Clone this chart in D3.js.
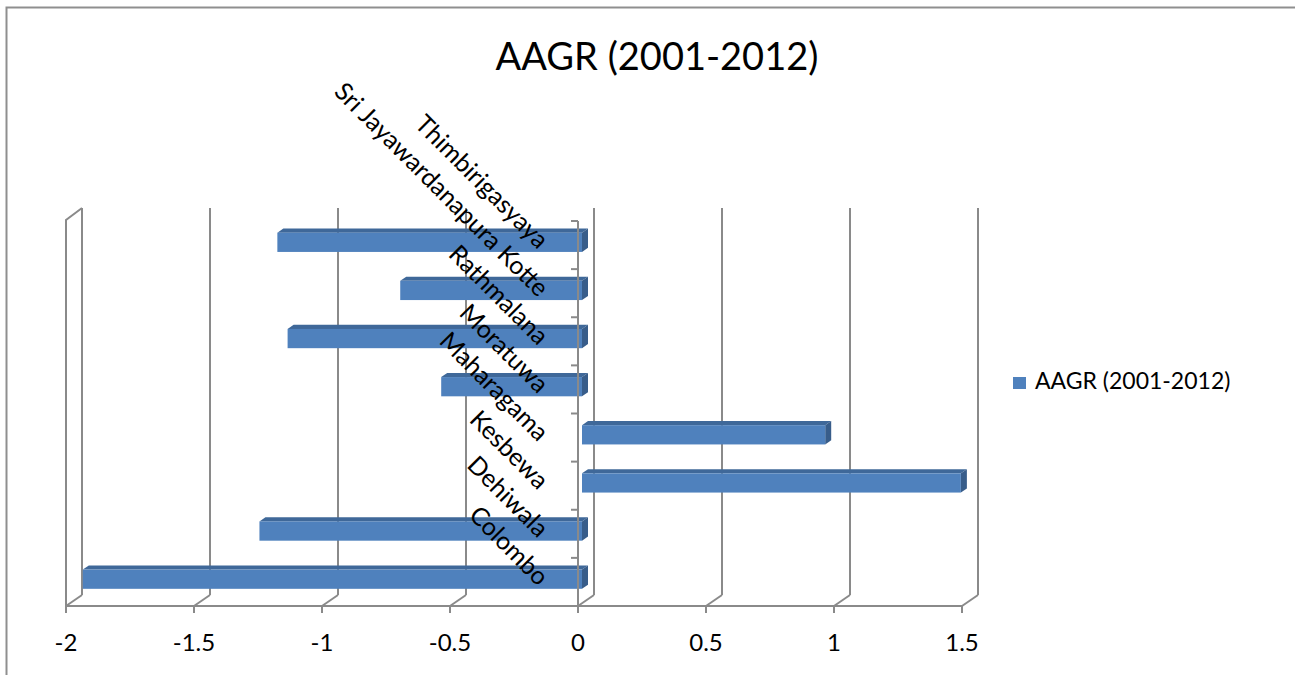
<!DOCTYPE html>
<html>
<head>
<meta charset="utf-8">
<script src="https://cdn.jsdelivr.net/npm/d3@7"></script>
<style>
  html, body { margin: 0; padding: 0; background: #fff; }
  svg { display: block; font-family: Lato, "Open Sans", sans-serif; }
</style>
</head>
<body>
<svg id="chart" width="1295" height="675"></svg>
<script>
// Average annual growth rate by DS division, 2001-2012
const categories = ["Colombo", "Dehiwala", "Kesbewa", "Maharagama", "Moratuwa", "Rathmalana", "Sri Jayawardanapura Kotte", "Thimbirigasyaya"];
const aagr = [-1.95, -1.26, 1.48, 0.95, -0.55, -1.15, -0.71, -1.19];
const xTicks = [-2, -1.5, -1, -0.5, 0, 0.5, 1, 1.5];
const seriesName = "AAGR (2001-2012)";

const svg = d3.select("#chart");
const W = 1295, H = 675;

// front plane of the plot box
const x = d3.scaleLinear().domain([-2, 1.5]).range([66, 962]);
const y = d3.scaleBand().domain(categories).range([606, 221]).paddingInner(0.6).paddingOuter(0.3);
const yTop = 221, yBot = 606;

// oblique depth offset of the back wall relative to the front plane
const DX = 16, DY = -11;
const depth = (f) => [DX * f, DY * f];
const barFront = 0.25, barBack = 0.625;

const gridColor = "#8a8a8a";

svg.append("rect").attr("width", W).attr("height", H).attr("fill", "#fff");

// outer frame (top and left edges)
svg.append("path")
  .attr("d", `M6.5,${H} L6.5,7.5 L${W},7.5`)
  .attr("fill", "none").attr("stroke", "#8f8f8f").attr("stroke-width", 2);

// title
svg.append("text")
  .attr("x", 657).attr("y", 70)
  .attr("text-anchor", "middle")
  .attr("font-size", 38).attr("fill", "#000")
  .text(seriesName);

const walls = svg.append("g").attr("fill", "none").attr("stroke", gridColor).attr("stroke-width", 2);
const [bx, by] = depth(1);

// back wall gridlines
xTicks.forEach(t => {
  walls.append("line")
    .attr("x1", x(t) + bx).attr("x2", x(t) + bx)
    .attr("y1", yTop + by - 2).attr("y2", yBot + by);
});

// left side wall
walls.append("path")
  .attr("d", `M${x(-2)},${yBot} L${x(-2)},${yTop - 1} L${x(-2) + bx},${yTop + by - 2}`);

// floor: front edge and depth connectors at each tick
walls.append("line")
  .attr("x1", x(-2)).attr("x2", x(1.5))
  .attr("y1", yBot).attr("y2", yBot);
xTicks.forEach(t => {
  walls.append("line")
    .attr("x1", x(t)).attr("y1", yBot)
    .attr("x2", x(t) + bx).attr("y2", yBot + by);
  walls.append("line")
    .attr("x1", x(t)).attr("y1", yBot)
    .attr("x2", x(t)).attr("y2", yBot + 7);
});

// bars as oblique boxes
const colFront = "#4f81bd", colTop = "#3f6899", colSide = "#385d8a";
const [fx, fy] = depth(barFront);
const [kx, ky] = depth(barBack);
const bars = svg.append("g");
categories.forEach((c, i) => {
  const v = aagr[i];
  const xl = x(Math.min(0, v)), xr = x(Math.max(0, v));
  const yt = y(c), yb = y(c) + y.bandwidth();
  const g = bars.append("g");
  g.append("path")
    .attr("d", `M${xl + fx},${yt + fy} L${xr + fx},${yt + fy} L${xr + kx},${yt + ky} L${xl + kx},${yt + ky} Z`)
    .attr("fill", colTop);
  g.append("path")
    .attr("d", `M${xr + fx},${yt + fy} L${xr + kx},${yt + ky} L${xr + kx},${yb + ky} L${xr + fx},${yb + fy} Z`)
    .attr("fill", colSide);
  g.append("rect")
    .attr("x", xl + fx).attr("y", yt + fy)
    .attr("width", xr - xl).attr("height", yb - yt)
    .attr("fill", colFront);
});

// category axis at zero
const axis = svg.append("g").attr("stroke", gridColor).attr("stroke-width", 2);
axis.append("line")
  .attr("x1", x(0)).attr("x2", x(0))
  .attr("y1", yTop).attr("y2", yBot);
const step = y.step();
d3.range(categories.length).forEach(i => {
  const yy = yBot - (i + 1) * step;
  axis.append("line")
    .attr("x1", x(0) - 7).attr("x2", x(0))
    .attr("y1", yy).attr("y2", yy);
});

// value tick labels
svg.append("g").selectAll("text")
  .data(xTicks).join("text")
  .attr("x", d => x(d)).attr("y", 651)
  .attr("text-anchor", "middle")
  .attr("font-size", 24).attr("fill", "#000")
  .text(d => d3.format("")(d).replace("−", "-"));

// rotated category labels
svg.append("g").selectAll("text")
  .data(categories).join("text")
  .attr("transform", d => `translate(538, ${y(d) + y.bandwidth() / 2 + 5}) rotate(45)`)
  .attr("text-anchor", "end")
  .attr("font-size", 25).attr("fill", "#000")
  .text(d => d);

// legend
const lg = svg.append("g").attr("transform", "translate(1013, 377)");
lg.append("rect").attr("width", 13).attr("height", 12).attr("fill", colFront);
lg.append("text").attr("x", 22).attr("y", 12)
  .attr("font-size", 23).attr("fill", "#000")
  .text(seriesName);
</script>
</body>
</html>
